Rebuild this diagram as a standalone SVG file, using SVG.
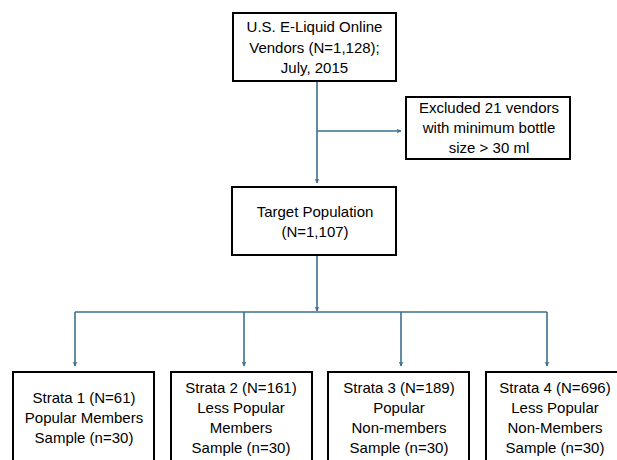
<svg xmlns="http://www.w3.org/2000/svg" width="617" height="460" viewBox="0 0 617 460">
<style>
.box{fill:#fff;stroke:#000;stroke-width:2}
.t{font-family:"Liberation Sans",Arial,sans-serif;font-size:15px;fill:#000;text-anchor:middle}
.c{fill:none;stroke:#3d6f8e;stroke-width:1.6}
</style>
<defs>
<marker id="ah" viewBox="0 0 10 10" refX="9" refY="5" markerWidth="5" markerHeight="5" markerUnits="userSpaceOnUse" orient="auto">
<path d="M0,0 L10,5 L0,10 L3,5 Z" fill="#3d6f8e"/>
</marker>
</defs>
<rect width="617" height="460" fill="#fff"/>
<g id="connectors">
<line class="c" x1="317" y1="81" x2="317" y2="183" marker-end="url(#ah)"/>
<line class="c" x1="317" y1="131" x2="401" y2="131" marker-end="url(#ah)"/>
<line class="c" x1="317" y1="255" x2="317" y2="311" marker-end="url(#ah)"/>
<line class="c" x1="75" y1="312" x2="547" y2="312"/>
<line class="c" x1="75" y1="312" x2="75" y2="366" marker-end="url(#ah)"/>
<line class="c" x1="244" y1="312" x2="244" y2="366" marker-end="url(#ah)"/>
<line class="c" x1="401" y1="312" x2="401" y2="366" marker-end="url(#ah)"/>
<line class="c" x1="547" y1="312" x2="547" y2="366" marker-end="url(#ah)"/>
</g>
<g id="source">
<rect class="box" x="233" y="13" width="163" height="68"/>
<text class="t" x="314.5" y="32">U.S. E-Liquid Online</text>
<text class="t" x="314.5" y="53">Vendors (N=1,128);</text>
<text class="t" x="314.5" y="73">July, 2015</text>
</g>
<g id="excluded">
<rect class="box" x="406" y="97" width="164" height="62"/>
<text class="t" x="489" y="113">Excluded 21 vendors</text>
<text class="t" x="489" y="133">with minimum bottle</text>
<text class="t" x="489" y="153">size &gt; 30 ml</text>
</g>
<g id="target">
<rect class="box" x="232" y="187" width="164" height="68"/>
<text class="t" x="315" y="217">Target Population</text>
<text class="t" x="315" y="237">(N=1,107)</text>
</g>
<g id="strata1">
<rect class="box" x="13" y="372" width="141" height="100"/>
<text class="t" x="84" y="403">Strata 1 (N=61)</text>
<text class="t" x="84" y="423">Popular Members</text>
<text class="t" x="84" y="443">Sample (n=30)</text>
</g>
<g id="strata2">
<rect class="box" x="171" y="372" width="141" height="100"/>
<text class="t" x="241" y="393">Strata 2 (N=161)</text>
<text class="t" x="241" y="413">Less Popular</text>
<text class="t" x="241" y="433">Members</text>
<text class="t" x="241" y="453">Sample (n=30)</text>
</g>
<g id="strata3">
<rect class="box" x="328" y="372" width="141" height="100"/>
<text class="t" x="399" y="393">Strata 3 (N=189)</text>
<text class="t" x="399" y="413">Popular</text>
<text class="t" x="399" y="433">Non-members</text>
<text class="t" x="399" y="453">Sample (n=30)</text>
</g>
<g id="strata4">
<rect class="box" x="486" y="372" width="141" height="100"/>
<text class="t" x="555" y="393">Strata 4 (N=696)</text>
<text class="t" x="555" y="413">Less Popular</text>
<text class="t" x="555" y="433">Non-Members</text>
<text class="t" x="555" y="453">Sample (n=30)</text>
</g>
</svg>
